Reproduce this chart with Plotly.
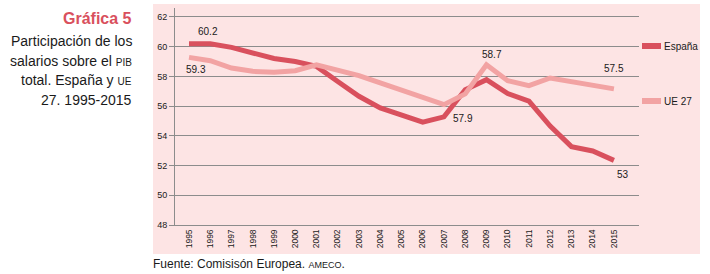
import plotly.graph_objects as go

years = list(range(1995, 2016))
espana = [60.2, 60.2, 59.95, 59.57, 59.2, 59.0, 58.67, 57.65, 56.66, 55.88, 55.4,
          54.92, 55.28, 57.1, 57.78, 56.84, 56.33, 54.65, 53.27, 52.98, 52.35]
ue27 = [59.28, 59.05, 58.56, 58.34, 58.27, 58.38, 58.78, 58.43, 58.05, 57.56, 57.07,
        56.6, 56.1, 56.82, 58.78, 57.71, 57.38, 57.89, 57.67, 57.43, 57.16]
tick_labels = [str(y) for y in years]
y_ticks = [48, 50, 52, 54, 56, 58, 60, 62]

# value labels (text, x, y) shown on chart
value_labels = [("60.2", 1995.9, 61.0), ("59.3", 1995.35, 58.43), ("57.9", 2007.88, 55.14),
                ("58.7", 2009.25, 59.5), ("57.5", 2015.0, 58.5), ("53", 2015.45, 51.37)]

C_ES = "#d9505d"
C_UE = "#f2a3a3"
BG = "#fde4e4"
GRID = "#8c8c8c"
TXT = "#1a1a1a"
FONT = "Liberation Sans, Arial, Helvetica, sans-serif"

# plot area in pixels
PX0, PX1, PY0, PY1 = 175, 639, 8, 225
W, H = 710, 274


def px(x):
    return (x - PX0) / (PX1 - PX0)


def py(y):
    return (PY1 - y) / (PY1 - PY0)


fig = go.Figure()
fig.add_trace(go.Scatter(x=years, y=espana, mode="lines", name="España",
                         line=dict(color=C_ES, width=5), showlegend=False))
fig.add_trace(go.Scatter(x=years, y=ue27, mode="lines", name="UE 27",
                         line=dict(color=C_UE, width=5), showlegend=False))

shapes = [
    dict(type="rect", xref="paper", yref="paper", x0=px(153), x1=px(700), y0=py(254), y1=py(4),
         fillcolor=BG, line=dict(width=0), layer="below"),
    # legend swatches
    dict(type="line", xref="paper", yref="paper", x0=px(642), x1=px(661), y0=py(46), y1=py(46),
         line=dict(color=C_ES, width=6)),
    dict(type="line", xref="paper", yref="paper", x0=px(642), x1=px(661), y0=py(101), y1=py(101),
         line=dict(color=C_UE, width=6)),
]

annotations = []
for t, x, y in value_labels:
    annotations.append(dict(text=t, x=x, y=y, xref="x", yref="y", showarrow=False,
                            xanchor="center", yanchor="middle",
                            font=dict(size=10, color=TXT, family=FONT)))


def pa(text, x, y, xanchor, size, color=TXT):
    return dict(text=text, x=px(x), y=py(y), xref="paper", yref="paper", xanchor=xanchor,
                yanchor="middle", showarrow=False, font=dict(size=size, color=color, family=FONT))


annotations += [
    pa("España", 662, 46, "left", 10),
    pa("UE 27", 662, 101, "left", 10),
    pa("<b>Gráfica 5</b>", 134, 18, "right", 16, C_ES),
]
body = ["Participación de los",
        "salarios sobre el <span style='font-size:10px'>PIB</span>",
        "total. España y <span style='font-size:10px'>UE</span>",
        "27. 1995-2015"]
for i, line in enumerate(body):
    annotations.append(pa(line, 134, 41 + i * 19.7, "right", 14))
annotations.append(pa("Fuente: Comisisón Europea. <span style='font-size:9px'>AMECO</span>.",
                      151, 264, "left", 12))

fig.update_layout(
    width=W, height=H,
    margin=dict(l=PX0, r=W - PX1, t=PY0, b=H - PY1, pad=0, autoexpand=False),
    paper_bgcolor="white", plot_bgcolor="rgba(0,0,0,0)",
    shapes=shapes, annotations=annotations, showlegend=False,
    font=dict(family=FONT, color=TXT),
)
fig.update_xaxes(range=[1994.34, 2016.18], tickvals=years, ticktext=tick_labels, tickangle=-90,
                 showgrid=False, zeroline=False, showline=True, linecolor=GRID, linewidth=1,
                 ticks="", automargin=False, tickfont=dict(size=8.5, color=TXT, family=FONT))
fig.update_yaxes(range=[48, 62.6], tickvals=y_ticks, showgrid=True, gridcolor=GRID, gridwidth=1,
                 zeroline=False, showline=True, linecolor=GRID, linewidth=1,
                 ticks="outside", ticklen=5, tickcolor=GRID, automargin=False,
                 tickfont=dict(size=9, color=TXT, family=FONT))

fig.write_html("out.html", config={"displayModeBar": False},
               post_script="document.body.style.margin='0';")
